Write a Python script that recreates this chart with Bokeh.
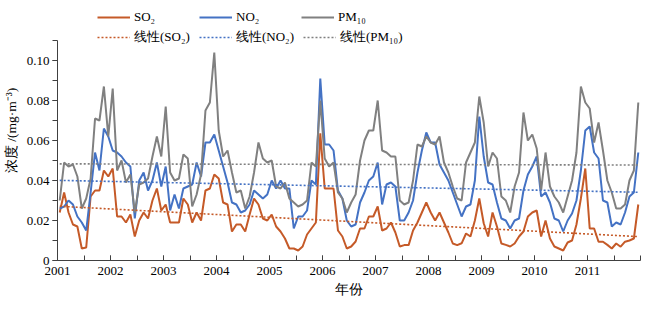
import numpy as np
from bokeh.plotting import figure
from bokeh.models import Legend, LegendItem, Range1d, FixedTicker
from bokeh.embed import file_html
from bokeh.resources import INLINE

# ---- data (monthly means, Jan 2001 .. Dec 2011), mg/m3 ----
start_year = 2001
so2 = [
    0.024, 0.034, 0.024, 0.018, 0.017, 0.006, 0.0065, 0.032, 0.035, 0.035, 0.045, 0.042,
    0.046, 0.022, 0.022, 0.019, 0.023, 0.012, 0.020, 0.024, 0.021, 0.030, 0.036, 0.025,
    0.028, 0.019, 0.019, 0.019, 0.031, 0.028, 0.019, 0.024, 0.020, 0.035, 0.036, 0.043,
    0.041, 0.029, 0.028, 0.0145, 0.018, 0.018, 0.0145, 0.023, 0.031, 0.028, 0.021, 0.020,
    0.023, 0.017, 0.0145, 0.011, 0.006, 0.006, 0.005, 0.007, 0.013, 0.016, 0.019, 0.0636,
    0.036, 0.036, 0.036, 0.015, 0.012, 0.006, 0.007, 0.0095, 0.016, 0.016, 0.022, 0.022,
    0.027, 0.015, 0.016, 0.019, 0.014, 0.007, 0.0077, 0.0077, 0.015, 0.019, 0.024, 0.029,
    0.024, 0.020, 0.024, 0.019, 0.014, 0.0085, 0.0077, 0.0086, 0.0135, 0.012, 0.020, 0.031,
    0.0186, 0.012, 0.024, 0.017, 0.0085, 0.0078, 0.007, 0.0085, 0.012, 0.0145, 0.022, 0.024,
    0.025, 0.012, 0.020, 0.011, 0.007, 0.006, 0.005, 0.009, 0.010, 0.018, 0.031, 0.046,
    0.016, 0.016, 0.0094, 0.0094, 0.0078, 0.006, 0.0085, 0.0069, 0.0094, 0.010, 0.011, 0.028,
]
no2 = [
    0.026, 0.027, 0.030, 0.028, 0.022, 0.019, 0.015, 0.034, 0.054, 0.045, 0.066, 0.062,
    0.055, 0.054, 0.052, 0.049, 0.047, 0.021, 0.040, 0.044, 0.035, 0.040, 0.049, 0.037,
    0.047, 0.025, 0.033, 0.026, 0.036, 0.037, 0.038, 0.049, 0.042, 0.059, 0.059, 0.063,
    0.055, 0.047, 0.039, 0.029, 0.028, 0.024, 0.025, 0.028, 0.035, 0.033, 0.031, 0.033,
    0.040, 0.036, 0.040, 0.036, 0.036, 0.016, 0.022, 0.022, 0.025, 0.040, 0.038, 0.091,
    0.058, 0.058, 0.055, 0.035, 0.031, 0.020, 0.017, 0.018, 0.029, 0.034, 0.040, 0.042,
    0.049, 0.028, 0.038, 0.039, 0.037, 0.020, 0.020, 0.024, 0.030, 0.044, 0.055, 0.064,
    0.059, 0.059, 0.048, 0.044, 0.040, 0.034, 0.028, 0.022, 0.027, 0.028, 0.040, 0.072,
    0.052, 0.039, 0.038, 0.029, 0.021, 0.020, 0.016, 0.020, 0.021, 0.035, 0.043, 0.047,
    0.052, 0.032, 0.034, 0.029, 0.021, 0.020, 0.0145, 0.020, 0.0235, 0.030, 0.045, 0.065,
    0.067, 0.054, 0.051, 0.030, 0.029, 0.017, 0.019, 0.018, 0.024, 0.032, 0.034, 0.054,
]
pm10 = [
    0.030, 0.049, 0.047, 0.048, 0.042, 0.026, 0.031, 0.041, 0.071, 0.070, 0.087, 0.062,
    0.086, 0.045, 0.050, 0.039, 0.043, 0.024, 0.038, 0.039, 0.041, 0.052, 0.062, 0.052,
    0.077, 0.044, 0.040, 0.041, 0.053, 0.051, 0.027, 0.033, 0.043, 0.075, 0.079, 0.104,
    0.065, 0.052, 0.055, 0.044, 0.034, 0.035, 0.026, 0.032, 0.044, 0.059, 0.051, 0.049,
    0.050, 0.037, 0.036, 0.039, 0.031, 0.029, 0.027, 0.028, 0.030, 0.049, 0.047, 0.080,
    0.051, 0.047, 0.049, 0.034, 0.031, 0.024, 0.029, 0.033, 0.050, 0.060, 0.065, 0.065,
    0.080, 0.055, 0.054, 0.052, 0.052, 0.030, 0.028, 0.029, 0.040, 0.058, 0.057, 0.062,
    0.059, 0.058, 0.062, 0.049, 0.044, 0.037, 0.031, 0.030, 0.049, 0.054, 0.059, 0.082,
    0.069, 0.047, 0.054, 0.051, 0.032, 0.030, 0.024, 0.037, 0.044, 0.074, 0.060, 0.063,
    0.056, 0.035, 0.054, 0.037, 0.032, 0.029, 0.024, 0.032, 0.040, 0.054, 0.087, 0.079,
    0.076, 0.059, 0.069, 0.055, 0.040, 0.034, 0.026, 0.026, 0.028, 0.040, 0.045, 0.079,
]
year_ticks = list(range(2001, 2012))
y_ticks = [0, 0.02, 0.04, 0.06, 0.08, 0.10]
y_tick_labels = ["0", "0.02", "0.04", "0.06", "0.08", "0.10"]
series_names = ["SO₂", "NO₂", "PM₁₀"]
trend_names = ["线性(SO₂)", "线性(NO₂)", "线性(PM₁₀)"]
colors = ["#C55A28", "#4472C4", "#808080"]
y_axis_max = 0.11

# month positions (mid-month)
n = len(so2)
x = [start_year + (i + 0.5) / 12 for i in range(n)]


def linear_trend(vals):
    k, b = np.polyfit(x, vals, 1)
    return [k * xx + b for xx in x]


# frame spans the full height above the x axis; the y axis itself is bounded
# to 0..0.11 so the legend (inside the frame) sits above the axis top
frame_h = 260
p = figure(width=648, height=309, output_backend="svg", toolbar_location=None,
           x_range=Range1d(2001, 2012),
           y_range=Range1d(0, y_axis_max * frame_h / 220),
           min_border_left=55, min_border_right=8, min_border_top=0, min_border_bottom=49)
p.background_fill_color = "white"
p.border_fill_color = "white"
p.outline_line_color = None
p.xgrid.visible = False
p.ygrid.visible = False

lines = []
trends = []
for vals, col in zip([so2, no2, pm10], colors):
    r = p.line(x, vals, line_color=col, line_width=2)
    lines.append(r)
for vals, col in zip([so2, no2, pm10], colors):
    t = p.line(x, linear_trend(vals), line_color=col, line_width=1.6, line_dash="2 2")
    trends.append(t)

serif = "Liberation Serif"

# x axis
p.xaxis.ticker = FixedTicker(ticks=year_ticks,
                             minor_ticks=[2001 + k * 0.5 for k in range(23)])
p.xaxis.major_tick_in = 5
p.xaxis.major_tick_out = 0
p.xaxis.minor_tick_in = 5
p.xaxis.minor_tick_out = 0
p.xaxis.major_label_standoff = 6
p.xaxis.axis_label = "年份"
p.xaxis.axis_label_standoff = 4

# y axis
p.yaxis.bounds = (0, y_axis_max)
p.yaxis.ticker = FixedTicker(ticks=y_ticks,
                             minor_ticks=[0.01 * k for k in range(12)])
p.yaxis.major_label_overrides = {v: s for v, s in zip(y_ticks, y_tick_labels)}
p.yaxis.major_tick_in = 0
p.yaxis.major_tick_out = 5
p.yaxis.minor_tick_in = 0
p.yaxis.minor_tick_out = 5
p.yaxis.major_label_standoff = 3
p.yaxis.axis_label = "浓度 /(mg·m⁻³)"
p.yaxis.axis_label_standoff = 5

for ax in (p.xaxis[0], p.yaxis[0]):
    ax.axis_line_color = "#404040"
    ax.major_tick_line_color = "#404040"
    ax.minor_tick_line_color = "#404040"
    ax.major_label_text_font = serif
    ax.major_label_text_font_size = "13px"
    ax.major_label_text_color = "black"
    ax.axis_label_text_font = serif
    ax.axis_label_text_font_size = "13.5px"
    ax.axis_label_text_font_style = "normal"
    ax.axis_label_text_color = "black"

# legends (two rows)
leg1 = Legend(items=[LegendItem(label=nm, renderers=[r]) for nm, r in zip(series_names, lines)],
              location=(40, 235))
leg2 = Legend(items=[LegendItem(label=nm, renderers=[r]) for nm, r in zip(trend_names, trends)],
              location=(40, 214))
for lg in (leg1, leg2):
    lg.orientation = "horizontal"
    lg.padding = 0
    lg.margin = 0
    lg.spacing = 9
    lg.glyph_width = 33
    lg.glyph_height = 16
    lg.label_height = 16
    lg.label_width = 56
    lg.label_standoff = 4
    lg.border_line_color = None
    lg.background_fill_alpha = 0
    lg.label_text_font = serif
    lg.label_text_font_size = "13px"
    lg.label_text_color = "black"
    p.add_layout(lg, "center")

open("out.html", "w").write(file_html(p, INLINE))
